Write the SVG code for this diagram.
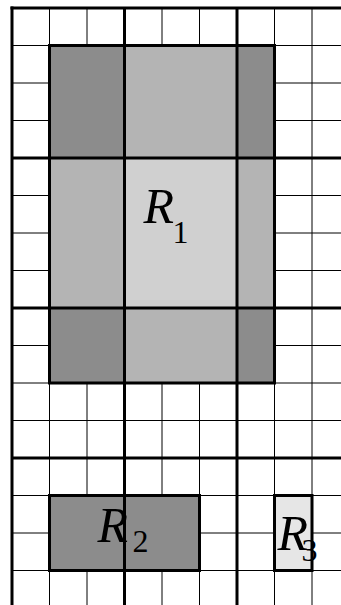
<svg xmlns="http://www.w3.org/2000/svg" width="341" height="605" viewBox="0 0 341 605">
<style>
.thin{stroke:#000;stroke-width:1;fill:none}
.thick{stroke:#000;stroke-width:3;fill:none}
.dark{fill:#8c8c8c}
.mid{fill:#b4b4b4}
.light{fill:#d0d0d0}
.pale{fill:#e6e6e6}
.box{fill:none;stroke:#000;stroke-width:3}
.R{font-family:"Liberation Serif",serif;font-style:italic;font-size:50px;fill:#000}
.s{font-family:"Liberation Serif",serif;font-size:32px;fill:#000}
</style>
<rect x="0" y="0" width="341" height="605" fill="#fff"/>
<g id="thin-grid" class="thin">
<path d="M49.5 8V605M87 8V605M162 8V605M199.5 8V605M274.5 8V605M312 8V605"/>
<path d="M12 45.5H341M12 83H341M12 120.5H341M12 195.5H341M12 233H341M12 270.5H341M12 345.5H341M12 383H341M12 420.5H341M12 495.5H341M12 533H341M12 570.5H341"/>
</g>
<g id="R1">
<rect class="dark" x="49.5" y="45.5" width="75" height="112.5"/>
<rect class="mid" x="124.5" y="45.5" width="112.5" height="112.5"/>
<rect class="dark" x="237" y="45.5" width="37.5" height="112.5"/>
<rect class="mid" x="49.5" y="158" width="75" height="150"/>
<rect class="light" x="124.5" y="158" width="112.5" height="150"/>
<rect class="mid" x="237" y="158" width="37.5" height="150"/>
<rect class="dark" x="49.5" y="308" width="75" height="75"/>
<rect class="mid" x="124.5" y="308" width="112.5" height="75"/>
<rect class="dark" x="237" y="308" width="37.5" height="75"/>
<rect class="box" x="49.5" y="45.5" width="225" height="337.5"/>
</g>
<g id="R2">
<rect class="dark" x="49.5" y="495.5" width="150" height="75"/>
<rect class="box" x="49.5" y="495.5" width="150" height="75"/>
</g>
<g id="R3">
<rect class="pale" x="274.5" y="495.5" width="37.5" height="75"/>
<rect class="box" x="274.5" y="495.5" width="37.5" height="75"/>
</g>
<g id="thick-grid" class="thick">
<path d="M12 6.5V605M124.5 8V605M237 8V605"/>
<path d="M10.5 8H341M12 158H341M12 308H341M12 458H341"/>
</g>
<g id="labels">
<text class="R" x="143.5" y="223">R</text><text class="s" x="172.5" y="243">1</text>
<text class="R" x="97.5" y="541.5">R</text><text class="s" x="132.5" y="551.5">2</text>
<text class="R" x="277.5" y="550">R</text><text class="s" x="301.5" y="561">3</text>
</g>
</svg>
